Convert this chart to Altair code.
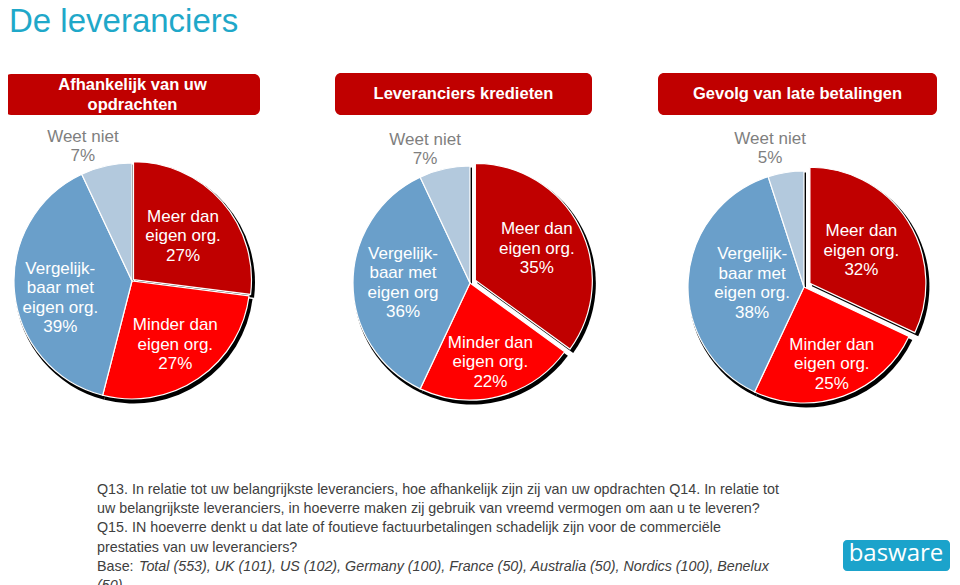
import math
import altair as alt
import pandas as pd

# ---------------- data ----------------
title = "De leveranciers"
pie_titles = ["Afhankelijk van uw\nopdrachten", "Leveranciers kredieten", "Gevolg van late betalingen"]
categories = ["Meer dan eigen org.", "Minder dan eigen org.", "Vergelijkbaar met eigen org.", "Weet niet"]
values_1 = [27, 27, 39, 7]
values_2 = [35, 22, 36, 7]
values_3 = [32, 25, 38, 5]
labels_1 = ["Meer dan\neigen org.", "Minder dan\neigen org.", "Vergelijk-\nbaar met\neigen org.", "Weet niet"]
labels_2 = ["Meer dan\neigen org.", "Minder dan\neigen org.", "Vergelijk-\nbaar met\neigen org", "Weet niet"]
labels_3 = ["Meer dan\neigen org.", "Minder dan\neigen org.", "Vergelijk-\nbaar met\neigen org.", "Weet niet"]
footnote_lines = [
    "Q13. In relatie tot uw belangrijkste leveranciers, hoe afhankelijk zijn zij van uw opdrachten Q14. In relatie tot",
    "uw belangrijkste leveranciers, in hoeverre maken zij gebruik van vreemd vermogen om aan u te leveren?",
    "Q15. IN hoeverre denkt u dat late of foutieve factuurbetalingen schadelijk zijn voor de commerciële",
    "prestaties van uw leveranciers?",
    "Base:",
]
base_lines = [
    "Total (553), UK (101), US (102), Germany (100), France (50), Australia (50), Nordics (100), Benelux",
    "(50)",
]
logo_text = "basware"

all_values = [values_1, values_2, values_3]
all_labels = [labels_1, labels_2, labels_3]

rows = []
for p, (vals, labs) in enumerate(zip(all_values, all_labels)):
    for k, (c, v, l) in enumerate(zip(categories, vals, labs)):
        rows.append({"pie": p, "cat": c, "order": k, "value": v, "label": f"{l}\n{v}%"})
df = pd.DataFrame(rows)
hdr_df = pd.DataFrame({"idx": list(range(3)), "title": pie_titles})

# ---------------- style / layout ----------------
COLORS = ["#c00000", "#ff0000", "#6a9fca", "#b3c9dd"]
OFF = 8  # page margin
FONT = "Liberation Sans, Arial, sans-serif"
PIES = [
    dict(cx=132, cy=281, r=118, explode=2),
    dict(cx=470, cy=283, r=117, explode=6),
    dict(cx=804, cy=287, r=116, explode=7),
]
LABEL_R = [[66, 77, 72, 138], [69, 82, 67, 137], [61, 82, 52, 140]]
LABEL_D = {(0, 2): (0, 10), (0, 3): (-19, 0), (1, 3): (-15, 0), (2, 3): (-12, 0)}
HEADERS = [(5, 260, 74, 115), (335, 592, 73, 115), (658, 937, 73, 115)]
LH = 19.5

THETA = alt.Scale(domain=[0, 100], range=[0, 2 * math.pi])
COLOR = alt.Color("cat:N", scale=alt.Scale(domain=categories, range=COLORS), legend=None)


def pie_base(p):
    return (
        alt.Chart(df)
        .transform_filter(alt.datum.pie == p)
        .transform_stack(stack="value", as_=["v0", "v1"], groupby=["pie"],
                         sort=[alt.SortField("order", order="ascending")])
        .transform_calculate(mid="(datum.v0 + datum.v1) / 2")
    )


layers = []

# title
layers.append(
    alt.Chart(pd.DataFrame({"t": [title]}))
    .mark_text(align="left", baseline="alphabetic", fontSize=33, font=FONT, color="#1fa8c9")
    .encode(text="t:N", x=alt.value(9 - OFF), y=alt.value(32 - OFF))
)

# headers
for i, (x0, x1, y0, y1) in enumerate(HEADERS):
    hb = alt.Chart(hdr_df).transform_filter(alt.datum.idx == i)
    n = pie_titles[i].count("\n")
    layers.append(
        hb.mark_rect(cornerRadius=6, color="#c00000").encode(
            x=alt.value(x0 - OFF), x2=alt.value(x1 - OFF), y=alt.value(y0 - OFF), y2=alt.value(y1 - OFF))
    )
    layers.append(
        hb.mark_text(lineBreak="\n", lineHeight=20, fontSize=16.5, fontWeight="bold", font=FONT,
                     color="white", align="center", baseline="middle", dy=-n * 20 / 2)
        .encode(text="title:N", x=alt.value((x0 + x1) / 2 - OFF), y=alt.value((y0 + y1) / 2 - OFF))
    )

# pies
for p, cfg in enumerate(PIES):
    cx, cy, r, e = cfg["cx"] - OFF, cfg["cy"] - OFF, cfg["r"], cfg["explode"]
    ang = math.radians(all_values[p][0] / 2 * 3.6)
    ex, ey = cx + e * math.sin(ang), cy - e * math.cos(ang)
    base = pie_base(p)
    main = base.transform_filter(alt.datum.order > 0)
    expl = base.transform_filter(alt.datum.order == 0)
    enc = dict(theta=alt.Theta("v0:Q", scale=THETA), theta2="v1:Q")
    # shadows
    layers.append(main.mark_arc(radius=r + 1.5, color="black").encode(
        x=alt.value(cx + 2), y=alt.value(cy + 3), **enc))
    layers.append(expl.mark_arc(radius=r + 1.5, color="black").encode(
        x=alt.value(ex + 2), y=alt.value(ey + 3), **enc))
    # slices
    layers.append(main.mark_arc(radius=r, stroke="white", strokeWidth=1.2).encode(
        x=alt.value(cx), y=alt.value(cy), color=COLOR, **enc))
    layers.append(expl.mark_arc(radius=r, stroke="white", strokeWidth=1.2).encode(
        x=alt.value(ex), y=alt.value(ey), color=COLOR, **enc))
    # labels
    for k in range(4):
        dx, dy = LABEL_D.get((p, k), (0, 0))
        nlines = all_labels[p][k].count("\n") + 2
        dy = dy - (nlines - 1) * LH / 2
        ccx, ccy = (ex, ey) if k == 0 else (cx, cy)
        layers.append(
            base.transform_filter(alt.datum.order == k)
            .mark_text(lineBreak="\n", lineHeight=LH, fontSize=17, font=FONT,
                       color="#7f7f7f" if k == 3 else "white",
                       align="center", baseline="middle", dx=dx, dy=dy)
            .encode(theta=alt.Theta("mid:Q", scale=THETA, stack=False),
                    radius=alt.value(LABEL_R[p][k]),
                    x=alt.value(ccx), y=alt.value(ccy), text="label:N")
        )

# footnote
FN_FONT = "Liberation Sans, Arial, sans-serif"
FN_SIZE = 14.3
FN_Y0, FN_LH = 490, 19.2
fn_df = pd.DataFrame({"i": list(range(len(footnote_lines))), "t": footnote_lines})
YSC = alt.Scale(domain=[0, 5], range=[FN_Y0 - OFF, FN_Y0 - OFF + 5 * FN_LH])
layers.append(
    alt.Chart(fn_df).mark_text(align="left", baseline="middle", fontSize=FN_SIZE, font=FN_FONT, color="#404040")
    .encode(text="t:N", x=alt.value(97 - OFF), y=alt.Y("i:Q", scale=YSC, axis=None))
)
bl_df = pd.DataFrame({"i": [4, 5], "t": base_lines})
for j, xs in enumerate([139, 97]):
    layers.append(
        alt.Chart(bl_df).transform_filter(alt.datum.i == 4 + j)
        .mark_text(align="left", baseline="middle", fontSize=FN_SIZE, font=FN_FONT, fontStyle="italic",
                   color="#404040")
        .encode(text="t:N", x=alt.value(xs - OFF), y=alt.Y("i:Q", scale=YSC, axis=None))
    )

# logo
logo_df = pd.DataFrame({"t": [logo_text]})
layers.append(
    alt.Chart(logo_df).mark_rect(cornerRadius=4, color="#1ba3cb").encode(
        x=alt.value(843 - OFF), x2=alt.value(950 - OFF), y=alt.value(540 - OFF), y2=alt.value(571 - OFF))
)
layers.append(
    alt.Chart(logo_df).mark_text(fontSize=24, font="Open Sans, Lato, sans-serif", color="white",
                                 align="center", baseline="middle")
    .encode(text="t:N", x=alt.value(896 - OFF), y=alt.value(554 - OFF))
)

chart = (
    alt.layer(*layers)
    .properties(width=944, height=577, padding=0, background="white",
                autosize=alt.AutoSizeParams(type="none"))
    .configure_view(stroke=None)
)

chart.save("out.html", embed_options={"renderer": "svg", "actions": False})
